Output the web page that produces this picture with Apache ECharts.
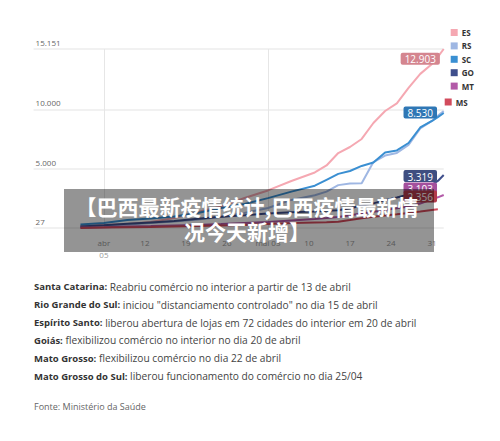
<!DOCTYPE html>
<html><head><meta charset="utf-8">
<script src="https://cdn.jsdelivr.net/npm/echarts@6/dist/echarts.min.js"></script>
<style>html,body{margin:0;padding:0;background:#fff}#c{width:500px;height:441px}</style>
</head><body><div id="c"></div>
<script>
// day offsets relative to 05 abr
const days = [-4,0,4,8,12,16,20,24,28,32,36,38,40,42,44,46,48,50,52,54,56,57,58];
const ES = [196,281,365,534,872,1380,1840,2560,3200,4000,4720,5310,6360,6870,7550,8900,9910,10550,11860,13050,13890,14480,15151];
const RS = [154,230,320,450,580,750,960,1300,1720,2400,2800,3100,3650,3790,3800,5600,6150,6370,7040,8450,9070,9500,9900];
const SC = [323,450,700,830,1000,1300,1720,2050,2550,3100,3600,4100,4600,4840,5270,5560,6410,6580,7210,8520,9070,9400,9740];
const GO = [150,250,380,500,620,800,980,1100,1250,1350,1430,1480,1530,1700,1900,2110,2380,2600,2850,3150,3700,4000,4505];
const MT = [60,100,150,190,240,290,360,450,530,660,790,870,960,1100,1250,1400,1550,1700,1850,2100,2450,2620,2816];
const MS = [27,60,85,110,150,190,240,280,360,440,490,510,560,700,850,980,1080,1180,1300,1420,1550,1607,null];
const seriesNames = ['ES','RS','SC','GO','MT','MS'];
const badgeDay = 54;
const badgeLabels = {ES:'12.903', SC:'8.530', GO:'3.319', MT:'3.103', MS:'2.356'};
const xTickDays = [0,7,14,21,28,35,42,49,56];
const xTickLabels = ['abr\n05','12','19','26','mai 03','10','17','24','31'];
const monthStartDays = [0,28];
const yTickValues = [27,5000,10000,15151];
const yTickLabels = ['27','5.000','10.000','15.151'];
const notes = [
  ['Santa Catarina:', ' Reabriu comércio no interior a partir de 13 de abril'],
  ['Rio Grande do Sul:', ' iniciou "distanciamento controlado" no dia 15 de abril'],
  ['Espírito Santo:', ' liberou abertura de lojas em 72 cidades do interior em 20 de abril'],
  ['Goiás:', ' flexibilizou comércio no interior no dia 20 de abril'],
  ['Mato Grosso:', ' flexibilizou comércio no dia 22 de abril'],
  ['Mato Grosso do Sul:', ' liberou funcionamento do comércio no dia 25/04']
];
const sourceText = 'Fonte: Ministério da Saúde';
const titleText = '【巴西最新疫情统计,巴西疫情最新情\n况今天新增】';

const values = {ES, RS, SC, GO, MT, MS};
const lineColors = {ES:'#f5a8b2', RS:'#9fb7e3', SC:'#3a8fd2', GO:'#3f4f8c', MT:'#b35aa8', MS:'#d24b5c'};
const badgeColors = {ES:'#d4858f', SC:'#2f77b5', GO:'#3e4e80', MT:'#a4509d', MS:'#b23a4b'};
const FONT = 'Open Sans';

const series = seriesNames.map(name => ({
  name, type: 'line', showSymbol: true, symbol: 'circle', symbolSize: 0,
  silent: true, animation: false,
  color: lineColors[name],
  lineStyle: {width: 2, color: lineColors[name]},
  labelLayout: {moveOverlap: 'shiftY'},
  data: days.map((d, i) => {
    const v = values[name][i];
    if (v == null) return null;
    if (d === badgeDay && badgeLabels[name]) {
      return {value: [d, v], label: {
        show: true, position: 'top', distance: 9, formatter: badgeLabels[name],
        backgroundColor: badgeColors[name], color: '#fff', fontSize: 10, fontFamily: FONT,
        lineHeight: 11, padding: [1, 4, 0, 4], borderRadius: 2
      }};
    }
    return [d, v];
  }).filter(x => x !== null)
}));

const graphics = [
  {type: 'rect', z: 100, shape: {x: 64, y: 189, width: 370, height: 63},
   style: {fill: 'rgba(0,0,0,0.42)'}},
  {type: 'text', z: 101, x: 247, y: 218.5,
   style: {text: titleText, fill: '#fff', font: 'bold 21px "Noto Sans CJK SC"',
     align: 'center', verticalAlign: 'middle', lineHeight: 25}}
];
notes.forEach((n, i) => {
  graphics.push({type: 'text', x: 34, y: 286.7 + i * 17.9,
    style: {text: '{b|' + n[0] + '}{n|' + n[1] + '}', verticalAlign: 'middle',
      rich: {
        b: {fontFamily: FONT, fontWeight: 'bold', fontSize: 9.5, fill: '#333'},
        n: {fontFamily: FONT, fontSize: 10.2, fill: '#444'}
      }}});
});
graphics.push({type: 'text', x: 34, y: 406.7,
  style: {text: sourceText, fontFamily: FONT, fontSize: 9, fill: '#666', verticalAlign: 'middle'}});

const chart = echarts.init(document.getElementById('c'), null, {renderer: 'svg'});
chart.setOption({
  backgroundColor: '#fff',
  animation: false,
  grid: {left: 33.6, right: 56.3, top: 49, bottom: 213},
  legend: [
    {data: ['ES','RS','SC','GO','MT'], orient: 'vertical', left: 450.7, top: 28.5,
     icon: 'rect', itemWidth: 7, itemHeight: 7, itemGap: 5.4, padding: 0,
     textStyle: {fontSize: 8, fontWeight: 'bold', color: '#333', fontFamily: FONT, padding: [0,0,0,-1]},
     selectedMode: false},
    {data: ['MS'], orient: 'vertical', left: 444.7, top: 98,
     icon: 'rect', itemWidth: 7, itemHeight: 7, padding: 0,
     textStyle: {fontSize: 8, fontWeight: 'bold', color: '#333', fontFamily: FONT, padding: [0,0,0,-1]},
     selectedMode: false}
  ],
  xAxis: {type: 'value', min: -12, max: 58,
    axisLine: {show: false},
    axisTick: {show: false, customValues: monthStartDays},
    splitLine: {show: true, lineStyle: {color: '#e6e6e6', width: 1}},
    axisLabel: {customValues: xTickDays, formatter: v => xTickLabels[xTickDays.indexOf(v)],
      color: '#999', fontSize: 8, margin: 9, lineHeight: 11.5, fontFamily: FONT}
  },
  yAxis: {type: 'value', min: 27, max: 15151,
    axisLine: {show: false},
    axisTick: {show: false, customValues: yTickValues},
    splitLine: {show: true, lineStyle: {color: '#ececec', width: 1.5}},
    axisLabel: {customValues: yTickValues, inside: true, formatter: v => yTickLabels[yTickValues.indexOf(v)],
      verticalAlign: 'bottom', align: 'left', margin: 2, padding: [0,0,3,0],
      fontSize: 8, color: '#666', fontFamily: FONT}
  },
  series,
  graphic: graphics
});
</script></body></html>
